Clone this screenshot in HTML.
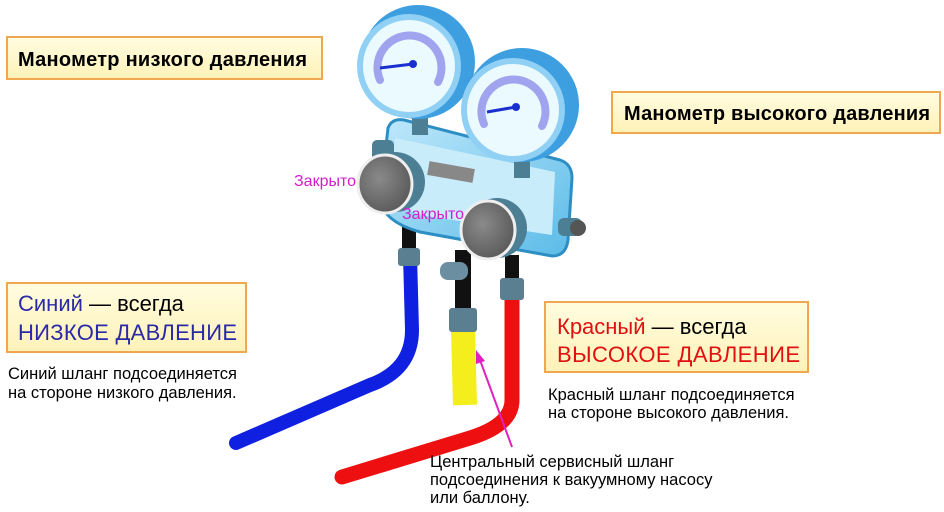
<!DOCTYPE html>
<html><head><meta charset="utf-8"><style>
body{margin:0;background:#fff;}
svg{display:block;font-family:"Liberation Sans","Noto Sans CJK SC",sans-serif;}
</style></head><body>
<svg width="944" height="512" viewBox="0 0 944 512">
<defs>
<linearGradient id="bx" x1="0" y1="0" x2="0" y2="1"><stop offset="0" stop-color="#fffce0"/><stop offset="1" stop-color="#fff2b8"/></linearGradient>
<linearGradient id="body" x1="0" y1="0" x2="1" y2="1"><stop offset="0" stop-color="#bfe8fb"/><stop offset="1" stop-color="#5bbbe8"/></linearGradient>
<radialGradient id="knob" cx="0.4" cy="0.4" r="0.7"><stop offset="0" stop-color="#8a8a8a"/><stop offset="1" stop-color="#555"/></radialGradient>
</defs>
<path d="M463,330 L465,405" stroke="#f4ee1c" stroke-width="24" fill="none"/>
<path d="M410,255 L412,330 Q412,370 370,385 L236,443" stroke="#1020e0" stroke-width="14" fill="none" stroke-linecap="round"/>
<path d="M512,300 L512,400 Q512,425 470,438 L342,477" stroke="#ee1010" stroke-width="15" fill="none" stroke-linecap="round"/>
<rect x="402" y="220" width="14" height="35" fill="#111"/>
<rect x="455" y="250" width="16" height="60" fill="#111"/>
<rect x="505" y="255" width="14" height="45" fill="#111"/>
<rect x="398" y="248" width="22" height="18" rx="3" fill="#5a7f90"/>
<rect x="449" y="308" width="28" height="24" rx="3" fill="#5a7f90"/>
<rect x="500" y="278" width="24" height="22" rx="3" fill="#5a7f90"/>
<rect x="440" y="262" width="28" height="18" rx="8" fill="#6b8fa0"/>
<path d="M388,128 Q392,118 404,120 L560,160 Q572,164 572,178 L568,240 Q566,256 552,256 L420,232 Q384,222 380,200 Z" fill="url(#body)" stroke="#2d8ec4" stroke-width="3"/>
<path d="M395,138 L555,172 L552,235 L420,215 Q392,205 392,190 Z" fill="#c9ecfb"/>
<rect x="428" y="165" width="46" height="14" fill="#888" transform="rotate(10 451 172)"/>
<rect x="372" y="140" width="22" height="22" rx="5" fill="#4d7f94"/>
<rect x="558" y="218" width="24" height="18" rx="6" fill="#4d7f94"/>
<circle cx="578" cy="228" r="8" fill="#555"/>
<ellipse cx="395" cy="182" rx="30" ry="30" fill="#4d7f94"/>
<ellipse cx="385" cy="184" rx="27" ry="29" fill="url(#knob)" stroke="#eee" stroke-width="3"/>
<ellipse cx="497" cy="228" rx="30" ry="30" fill="#4d7f94"/>
<ellipse cx="488" cy="230" rx="27" ry="29" fill="url(#knob)" stroke="#eee" stroke-width="3"/>
<rect x="412" y="115" width="16" height="20" fill="#4d7f94"/>
<rect x="514" y="158" width="16" height="20" fill="#4d7f94"/>
<circle cx="418" cy="62" r="57" fill="#3d9fe0"/>
<circle cx="409" cy="66" r="52" fill="#8fd0f4"/>
<circle cx="409" cy="66" r="46" fill="#eafaff"/>
<path d="M380,80 A32,32 0 1 1 438,82" stroke="#a0a4ee" stroke-width="8" fill="none" stroke-linecap="round"/>
<line x1="380" y1="68" x2="413" y2="64" stroke="#1a2fd0" stroke-width="3"/>
<circle cx="413" cy="64" r="4" fill="#1a2fd0"/>
<circle cx="522" cy="105" r="57" fill="#3d9fe0"/>
<circle cx="513" cy="110" r="52" fill="#8fd0f4"/>
<circle cx="513" cy="110" r="46" fill="#eafaff"/>
<path d="M484,124 A32,32 0 1 1 542,126" stroke="#a0a4ee" stroke-width="8" fill="none" stroke-linecap="round"/>
<line x1="487" y1="112" x2="516" y2="107" stroke="#1a2fd0" stroke-width="3"/>
<circle cx="516" cy="107" r="4" fill="#1a2fd0"/>
<text x="294" y="186" font-size="16" fill="#d020c8">Закрыто</text>
<text x="402" y="219" font-size="16" fill="#d020c8">Закрыто</text>
<rect x="7" y="37" width="315" height="42" fill="url(#bx)" stroke="#f0a850" stroke-width="2"/>
<text x="18" y="66" font-size="20" font-weight="bold" fill="#000" textLength="289">Манометр низкого давления</text>
<rect x="612" y="92" width="328" height="41" fill="url(#bx)" stroke="#f0a850" stroke-width="2"/>
<text x="624" y="120" font-size="20" font-weight="bold" fill="#000" textLength="306">Манометр высокого давления</text>
<rect x="7" y="283" width="239" height="69" fill="url(#bx)" stroke="#f0a850" stroke-width="2"/>
<text x="18" y="311" font-size="22"><tspan fill="#2a2aa8">Синий</tspan><tspan fill="#000"> — всегда</tspan></text>
<text x="18" y="340" font-size="22" fill="#2a2aa8" textLength="219">НИЗКОЕ ДАВЛЕНИЕ</text>
<rect x="545" y="302" width="263" height="70" fill="url(#bx)" stroke="#f0a850" stroke-width="2"/>
<text x="557" y="334" font-size="22"><tspan fill="#e01010">Красный</tspan><tspan fill="#000"> — всегда</tspan></text>
<text x="557" y="362" font-size="22" fill="#e01010" textLength="243">ВЫСОКОЕ ДАВЛЕНИЕ</text>
<text font-size="16.5" fill="#000"><tspan x="8" y="379">Синий шланг подсоединяется</tspan><tspan x="8" y="398">на стороне низкого давления.</tspan></text>
<text font-size="16.5" fill="#000"><tspan x="548" y="400">Красный шланг подсоединяется</tspan><tspan x="548" y="418">на стороне высокого давления.</tspan></text>
<text font-size="16.5" fill="#000"><tspan x="430" y="467">Центральный сервисный шланг</tspan><tspan x="430" y="485">подсоединения к вакуумному насосу</tspan><tspan x="430" y="503">или баллону.</tspan></text>
<line x1="512" y1="447" x2="480" y2="360" stroke="#e020c0" stroke-width="2"/>
<polygon points="476,350 476,364 485,361" fill="#e020c0"/>
</svg>
</body></html>
